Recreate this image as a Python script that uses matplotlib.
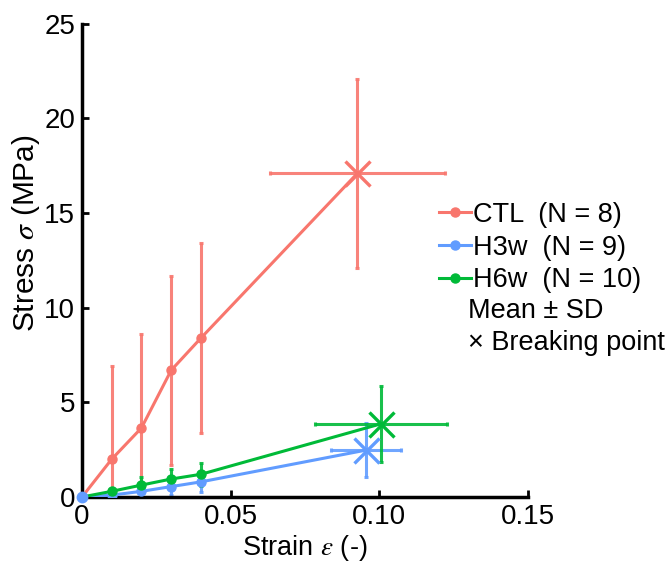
import matplotlib
matplotlib.use("Agg")
import matplotlib.pyplot as plt
from matplotlib.lines import Line2D

plt.rcParams['font.family'] = ['Liberation Sans', 'DejaVu Sans']
plt.rcParams['mathtext.fontset'] = 'stix'

# data
strain = [0, 0.01, 0.02, 0.03, 0.04]

ctl_mean = [0, 2.0, 3.65, 6.7, 8.4]
ctl_sd = [0, 4.9, 4.95, 5.0, 5.0]
h3w_mean = [0, 0.1, 0.3, 0.55, 0.8]
h3w_sd = [0, 0.1, 0.15, 0.45, 0.55]
h6w_mean = [0, 0.3, 0.63, 0.95, 1.2]
h6w_sd = [0, 0.15, 0.45, 0.55, 0.6]

# breaking points: strain mean, strain sd, stress mean, stress sd
ctl_break = [0.0926, 0.0294, 17.1, 5.0]
h3w_break = [0.0956, 0.0118, 2.48, 1.43]
h6w_break = [0.1004, 0.0222, 3.86, 2.03]

groups = ['CTL', 'H3w', 'H6w']
n_samples = [8, 9, 10]
colors = ['#F8766D', '#619CFF', '#00BA38']

fig = plt.figure(figsize=(6.70, 5.68), dpi=100)
ax = fig.add_axes([0.1224, 0.125, 0.6657, 0.833])

series = [(ctl_mean, ctl_sd, ctl_break),
          (h3w_mean, h3w_sd, h3w_break),
          (h6w_mean, h6w_sd, h6w_break)]

for (mean, sd, brk), col in zip(series, colors):
    xs = strain + [brk[0]]
    ys = mean + [brk[2]]
    ax.plot(xs, ys, color=col, lw=2.2, zorder=3)
    ax.plot(strain, mean, 'o', color=col, ms=6.5, zorder=4)
    ax.errorbar(strain[1:], mean[1:], yerr=sd[1:], fmt='none', ecolor=col,
                elinewidth=2.2, capsize=1.2, capthick=2.2, alpha=0.9, zorder=2)
    ax.errorbar([brk[0]], [brk[2]], xerr=[brk[1]], yerr=[brk[3]], fmt='none',
                ecolor=col, elinewidth=2.2, capsize=1.2, capthick=2.2, alpha=0.9, zorder=2)
    ax.plot([brk[0]], [brk[2]], 'x', color=col, ms=18, mew=2.4, zorder=4)

# origin point
ax.plot([0], [0], 'o', color=colors[1], ms=7.5, zorder=6, clip_on=False)

ax.set_xlim(0, 0.15)
ax.set_ylim(0, 25)
ax.set_xticks([0, 0.05, 0.10, 0.15])
ax.set_xticklabels(['0', '0.05', '0.10', '0.15'])
ax.set_yticks([0, 5, 10, 15, 20, 25])

for s in ['top', 'right']:
    ax.spines[s].set_visible(False)
for s in ['left', 'bottom']:
    ax.spines[s].set_linewidth(2.5)

ax.tick_params(direction='in', length=5, width=2, labelsize=20, pad=5)
ax.set_xlabel(r'Strain $\varepsilon$ (-)', fontsize=19.5, labelpad=2)
ax.set_ylabel(r'Stress $\sigma$ (MPa)', fontsize=21.5, labelpad=0)
ax.yaxis.set_label_coords(-0.09, 0.557)

handles = [Line2D([0], [0], color=c, lw=2.2, marker='o', ms=6.5) for c in colors]
labels = [f'{g}  (N = {n})' for g, n in zip(groups, n_samples)]
leg = fig.legend(handles, labels, loc='upper left', bbox_to_anchor=(0.655, 0.6445),
                 frameon=False, fontsize=19.5, handlelength=1.2, handletextpad=0.05,
                 labelspacing=0.25, borderaxespad=0, borderpad=0)

fig.text(0.6985, 0.452, 'Mean \u00b1 SD', fontsize=19.5, va='center')
fig.text(0.6985, 0.397, '\u00d7 Breaking point', fontsize=19.5, va='center')

fig.savefig('out.png', dpi=100)
